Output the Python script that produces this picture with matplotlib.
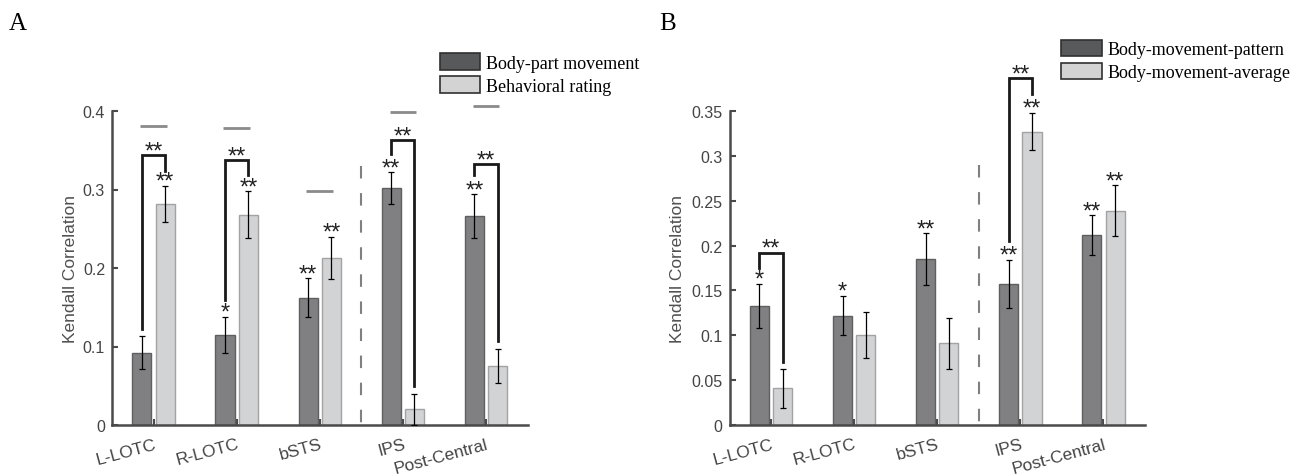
import matplotlib
matplotlib.use('Agg')
import matplotlib.pyplot as plt
import numpy as np
from matplotlib.patches import Patch

plt.rcParams['font.family'] = 'Liberation Sans'

regions = ['L-LOTC', 'R-LOTC', 'bSTS', 'IPS', 'Post-Central']

# Panel A values
a_part = [0.092, 0.115, 0.162, 0.302, 0.266]
a_part_err = [0.021, 0.023, 0.025, 0.020, 0.028]
a_rating = [0.282, 0.268, 0.213, 0.020, 0.075]
a_rating_err = [0.023, 0.030, 0.027, 0.020, 0.022]
a_ceiling = [0.381, 0.378, 0.298, 0.399, 0.406]
a_part_stars = ['', '*', '**', '**', '**']
a_rating_stars = ['**', '**', '**', '', '']
# region index, left leg bottom, bracket top, right leg bottom
a_brackets = [(0, 0.122, 0.344, 0.324), (1, 0.159, 0.337, 0.318),
              (3, 0.345, 0.363, 0.050), (4, 0.318, 0.332, 0.107)]

# Panel B values
b_pattern = [0.133, 0.122, 0.185, 0.157, 0.212]
b_pattern_err = [0.0245, 0.022, 0.029, 0.027, 0.022]
b_average = [0.041, 0.100, 0.091, 0.327, 0.239]
b_average_err = [0.0215, 0.0255, 0.0285, 0.021, 0.028]
b_pattern_stars = ['*', '*', '**', '**', '**']
b_average_stars = ['', '', '', '**', '**']
b_brackets = [(0, 0.175, 0.192, 0.070), (3, 0.205, 0.3865, 0.369)]

dark_fill, dark_edge = '#808083', '#5f5f5f'
light_fill, light_edge = '#d2d3d5', '#a3a3a3'
axis_col = '#4a4a4a'
offset, width = 0.14, 0.23

fig = plt.figure(figsize=(13.01, 4.77), dpi=100)


def star(ax, x, y, s):
    if s:
        ax.annotate(s, (x, y), xytext=(0, -1.5), textcoords='offset points',
                    ha='center', va='baseline', fontsize=17, color='#222222',
                    annotation_clip=False)


def draw_panel(ax, dark, dark_err, light, light_err, dark_stars, light_stars,
               brackets, ymax, yticks, ytick_labels, dash_top):
    x = np.arange(1, len(regions) + 1)
    ax.bar(x - offset, dark, width, color=dark_fill, edgecolor=dark_edge, linewidth=1, zorder=2)
    ax.bar(x + offset, light, width, color=light_fill, edgecolor=light_edge, linewidth=1, zorder=2)
    ax.errorbar(x - offset, dark, yerr=dark_err, fmt='none', ecolor='black',
                elinewidth=0.9, capsize=2.5, capthick=0.9, zorder=3)
    ax.errorbar(x + offset, light, yerr=light_err, fmt='none', ecolor='black',
                elinewidth=0.9, capsize=2.5, capthick=0.9, zorder=3)

    for i in range(len(regions)):
        star(ax, x[i] - offset, dark[i] + dark_err[i], dark_stars[i])
        star(ax, x[i] + offset, light[i] + light_err[i], light_stars[i])

    for i, lb, top, rb in brackets:
        ax.plot([x[i] - offset, x[i] - offset, x[i] + offset, x[i] + offset],
                [lb, top, top, rb], color='#1a1a1a', lw=2, clip_on=False,
                solid_joinstyle='miter', zorder=4)
        star(ax, x[i], top, '**')

    ax.plot([3.5, 3.5], [dash_top, 0], color='#808080', lw=1.5,
            linestyle=(0, (6, 7)), zorder=1)

    ax.set_xlim(0.5, 5.5)
    ax.set_ylim(0, ymax)
    ax.set_yticks(yticks)
    ax.set_yticklabels(ytick_labels)
    ax.set_xticks(x)
    ax.set_xticklabels(regions, rotation=15, ha='right', va='top',
                       rotation_mode='anchor', fontsize=12.5, color='#444444')
    for side in ['top', 'right']:
        ax.spines[side].set_visible(False)
    for side in ['left', 'bottom']:
        ax.spines[side].set_color(axis_col)
        ax.spines[side].set_linewidth(1.8)
    ax.tick_params(axis='y', direction='in', length=4, width=1.5, color=axis_col,
                   labelsize=11.5, labelcolor='#444444', pad=5)
    ax.tick_params(axis='x', direction='in', length=4, width=1.5, color=axis_col, pad=8)
    ax.set_ylabel('Kendall Correlation', fontsize=12.5, color='#505050')


axA = fig.add_axes([112 / 1301, 51 / 477, 415.5 / 1301, 314 / 477])
draw_panel(axA, a_part, a_part_err, a_rating, a_rating_err, a_part_stars,
           a_rating_stars, a_brackets, 0.4, [0, 0.1, 0.2, 0.3, 0.4],
           ['0', '0.1', '0.2', '0.3', '0.4'], 0.33)
xA = np.arange(1, len(regions) + 1)
for i in range(len(regions)):
    axA.plot([xA[i] - 0.16, xA[i] + 0.16], [a_ceiling[i], a_ceiling[i]],
             color='#8a8a8a', lw=2, clip_on=False, solid_capstyle='butt')
axA.yaxis.set_label_coords(-0.082, 0.5)

axB = fig.add_axes([729.5 / 1301, 51 / 477, 415.5 / 1301, 314 / 477])
draw_panel(axB, b_pattern, b_pattern_err, b_average, b_average_err,
           b_pattern_stars, b_average_stars, b_brackets, 0.35,
           [0, 0.05, 0.1, 0.15, 0.2, 0.25, 0.3, 0.35],
           ['0', '0.05', '0.1', '0.15', '0.2', '0.25', '0.3', '0.35'], 0.29)
axB.yaxis.set_label_coords(-0.107, 0.5)

leg_kw = dict(frameon=False, loc='upper left', borderpad=0, borderaxespad=0,
              handlelength=2.25, handleheight=1.05, handletextpad=0.3,
              labelspacing=0.25, prop={'family': 'Liberation Serif', 'size': 13})
handlesA = [Patch(facecolor='#58595b', edgecolor='#303030', lw=1.2),
            Patch(facecolor='#d3d3d3', edgecolor='#303030', lw=1.2)]
axA.legend(handlesA, ['Body-part movement', 'Behavioral rating'],
           bbox_to_anchor=(439.5 / 1301, 1 - 54 / 477), bbox_transform=fig.transFigure, **leg_kw)
handlesB = [Patch(facecolor='#58595b', edgecolor='#303030', lw=1.2),
            Patch(facecolor='#d3d3d3', edgecolor='#303030', lw=1.2)]
axB.legend(handlesB, ['Body-movement-pattern', 'Body-movement-average'],
           bbox_to_anchor=(1061 / 1301, 1 - 40.5 / 477), bbox_transform=fig.transFigure, **leg_kw)

fig.text(9 / 1301, 1 - 30 / 477, 'A', family='Liberation Serif', fontsize=18, va='baseline')
fig.text(659 / 1301, 1 - 30 / 477, 'B', family='Liberation Serif', fontsize=18, va='baseline')

fig.savefig('out.png', dpi=100)
